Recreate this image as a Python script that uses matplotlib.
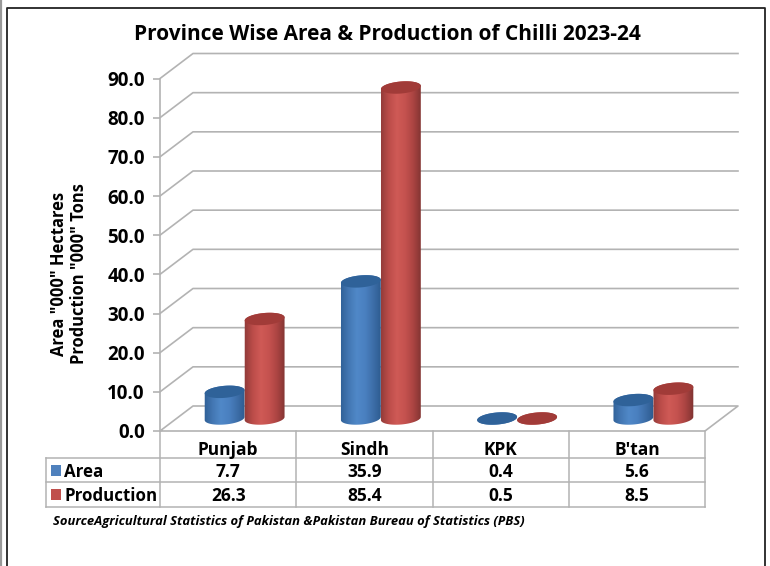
import numpy as np
import matplotlib
matplotlib.use('Agg')
import matplotlib.pyplot as plt
from matplotlib.colors import LinearSegmentedColormap
from matplotlib.patches import Polygon, Rectangle

provinces = ['Punjab', 'Sindh', 'KPK', "B'tan"]
area = [7.7, 35.9, 0.4, 5.6]
production = [26.3, 85.4, 0.5, 8.5]
y_ticks = [0, 10, 20, 30, 40, 50, 60, 70, 80, 90]

plt.rcParams['font.family'] = ['Open Sans', 'DejaVu Sans']
plt.rcParams['font.weight'] = 'bold'

W, H = 770, 566
fig = plt.figure(figsize=(W / 100, H / 100), dpi=100, facecolor='white')

# page layer in image pixels, for the frame, the table and the free text
page = fig.add_axes([0, 0, 1, 1])
page.set_xlim(0, W)
page.set_ylim(H, 0)
page.axis('off')

# plot layer, x in category units and y in chart units
x0, x1, y0, y90 = 160, 705, 431, 78.5
ax = fig.add_axes([x0 / W, (H - y0) / H, (x1 - x0) / W, (y0 - y90) / H])
ax.patch.set_alpha(0)
px = 4 / (x1 - x0)
py = 90 / (y0 - y90)
depth_x, depth_y = 33 * px, 25 * py
grey = '#b3b3b3'

for v in y_ticks:
    xs = [0, depth_x, 4 + depth_x] if v else [0, depth_x, 4 + depth_x, 4, 0]
    ys = [v, v + depth_y, v + depth_y] if v else [0, depth_y, depth_y, 0, 0]
    ax.plot(xs, ys, color=grey, lw=1.2, clip_on=False, zorder=1)

blue_map = LinearSegmentedColormap.from_list('b', ['#2f5f96', '#4377b3', '#5088c8', '#4a80c0', '#3d6ea8', '#2c5a8e'])
red_map = LinearSegmentedColormap.from_list('r', ['#8f3a38', '#bb4c49', '#cf5a56', '#c5524f', '#ab4442', '#7f3331'])
gradient = np.linspace(0, 1, 64).reshape(1, -1)


def cylinder(cx, value, cmap, top_color):
    a, b, tilt = 20, 6, np.radians(5)
    base_y = depth_y / 2
    # the top face sits a little under the value, as in the original 3D view
    top_y = max(base_y + value - 3.5 * py, base_y)
    t = np.linspace(0, 2 * np.pi, 121)
    ex = (a * np.cos(t) * np.cos(tilt) - b * np.sin(t) * np.sin(tilt)) * px
    ey = (a * np.cos(t) * np.sin(tilt) + b * np.sin(t) * np.cos(tilt)) * py
    lower = np.column_stack([cx + ex, base_y + ey])
    upper = np.column_stack([cx + ex, top_y + ey])
    # body outline: lower half of the base, then upper half of the top
    right = np.argmax(ex)
    left = np.argmin(ex)
    lo = np.roll(lower, -left, axis=0)[: (right - left) % 120 + 1]
    up = np.roll(upper, -right, axis=0)[: (left - right) % 120 + 1]
    body = Polygon(np.vstack([lo, up]), closed=True, fc='none', ec='none', transform=ax.transData)
    ax.add_patch(body)
    im = ax.imshow(gradient, cmap=cmap, aspect='auto', zorder=3,
                   extent=[cx - 21 * px, cx + 21 * px, 0, 100])
    im.set_clip_path(body)
    ax.add_patch(Polygon(upper, closed=True, fc=top_color, ec='none', zorder=3))


for i in range(len(provinces)):
    centre = i + 0.5 + depth_x / 2
    cylinder(centre - 20 * px, area[i], blue_map, '#2f6299')
    cylinder(centre + 20 * px, production[i], red_map, '#a13b38')

ax.set_xlim(0, 4)
ax.set_ylim(0, 90)
ax.set_xticks([])
ax.set_yticks(y_ticks)
ax.set_yticklabels(['%.1f' % v for v in y_ticks], fontsize=13.5, fontweight='bold')
ax.tick_params(axis='y', length=5, width=1.2, color=grey, pad=6)
for side in ['top', 'right', 'bottom']:
    ax.spines[side].set_visible(False)
ax.spines['left'].set_color(grey)
ax.spines['left'].set_linewidth(1.2)

# frame
page.plot([7, 7, 765, 765], [H, 8, 8, H], color='#222222', lw=1.3)
page.plot([1, 1], [0, H], color='#999999', lw=1.6)

page.text(387, 34.5, 'Province Wise Area & Production of Chilli 2023-24', fontsize=15,
          fontweight='bold', ha='center', va='center')
page.text(69, 274, 'Area "000" Hectares\nProduction "000" Tons', fontsize=11.9, fontweight='bold',
          rotation=90, ha='center', va='center', linespacing=1.2)

# data table under the plot
col_x = [160, 296.25, 432.5, 568.75, 705]
row_y = [431, 458, 482, 507]
for x in col_x:
    page.plot([x, x], [row_y[0], row_y[-1]], color=grey, lw=1.1)
for y in row_y[1:]:
    page.plot([46, 705], [y, y], color=grey, lw=1.1)
page.plot([46, 46], [row_y[1], row_y[-1]], color=grey, lw=1.1)

for i in range(len(provinces)):
    cx = (col_x[i] + col_x[i + 1]) / 2
    page.text(cx, 450, provinces[i], fontsize=12.5, ha='center', va='center')
    page.text(cx, 472, '%.1f' % area[i], fontsize=12.5, ha='center', va='center')
    page.text(cx, 496, '%.1f' % production[i], fontsize=12.5, ha='center', va='center')

page.add_patch(Rectangle((51, 465), 10, 11, fc='#4f81bd', ec='none'))
page.add_patch(Rectangle((51, 489), 10, 11, fc='#c0504d', ec='none'))
page.text(64, 472, 'Area', fontsize=12.2, ha='left', va='center')
page.text(64, 496, 'Production', fontsize=12.2, ha='left', va='center')

page.text(53, 522, 'SourceAgricultural Statistics of Pakistan &Pakistan Bureau of Statistics (PBS)',
          fontsize=9.4, fontstyle='italic', fontweight='bold', ha='left', va='center')

fig.savefig('out.png', dpi=100)
